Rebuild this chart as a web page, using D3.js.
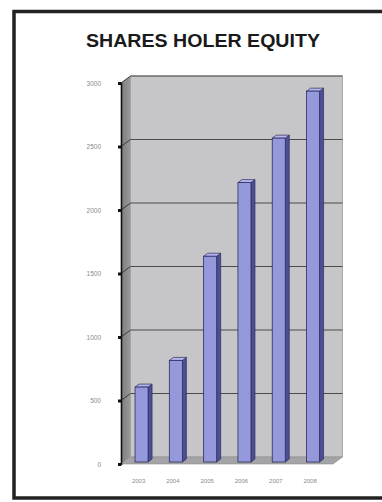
<!DOCTYPE html>
<html>
<head>
<meta charset="utf-8">
<script src="https://cdn.jsdelivr.net/npm/d3@7/dist/d3.min.js"></script>
<style>
  html, body { margin: 0; padding: 0; background: #fff; }
  svg { display: block; }
</style>
</head>
<body>
<svg id="chart" width="382" height="502"></svg>
<script>
// Shareholder equity by year
const years = ["2003", "2004", "2005", "2006", "2007", "2008"];
const equity = [590, 800, 1620, 2200, 2550, 2920];
const yTicks = [0, 500, 1000, 1500, 2000, 2500, 3000];
const titleText = "SHARES HOLER EQUITY";

const svg = d3.select("#chart");
const W = 382, H = 502;

svg.append("rect").attr("width", W).attr("height", H).attr("fill", "#fff");

// outer frame (right edge runs off the page)
svg.append("rect")
  .attr("x", 14).attr("y", 11.5)
  .attr("width", 400).attr("height", 486.5)
  .attr("fill", "none")
  .attr("stroke", "#222")
  .attr("stroke-width", 3.5);

// title
svg.append("text")
  .attr("x", 203).attr("y", 47)
  .attr("text-anchor", "middle")
  .attr("font-family", "Liberation Sans, Arial, sans-serif")
  .attr("font-weight", "bold")
  .attr("font-size", 18)
  .attr("textLength", 234)
  .attr("lengthAdjust", "spacingAndGlyphs")
  .attr("fill", "#1a1a1a")
  .text(titleText);

// 3D plot geometry
const axisX = 121;
const depthX = 9.5, depthY = -7;
const frontRight = 333;

const y = d3.scaleLinear().domain([0, 3000]).range([464, 83]);
const x = d3.scaleBand()
  .domain(years)
  .range([124.4, 330.2])
  .paddingInner(0.62)
  .paddingOuter(0.31);

const y0 = y(0), yTop = y(3000);

// back wall
svg.append("polygon")
  .attr("points", [
    [axisX + depthX, yTop + depthY],
    [frontRight + depthX, yTop + depthY],
    [frontRight + depthX, y0 + depthY],
    [axisX + depthX, y0 + depthY]
  ].join(" "))
  .attr("fill", "#c6c6c8")
  .attr("stroke", "#9a9a9a")
  .attr("stroke-width", 0.8);

// side wall
const sideGrad = svg.append("defs").append("linearGradient")
  .attr("id", "sideGrad").attr("x1", 0).attr("x2", 1).attr("y1", 0).attr("y2", 0);
sideGrad.append("stop").attr("offset", 0).attr("stop-color", "#7c7c7e");
sideGrad.append("stop").attr("offset", 1).attr("stop-color", "#9a9a9c");

svg.append("polygon")
  .attr("points", [
    [axisX, yTop],
    [axisX + depthX, yTop + depthY],
    [axisX + depthX, y0 + depthY],
    [axisX, y0]
  ].join(" "))
  .attr("fill", "url(#sideGrad)");

// floor
svg.append("polygon")
  .attr("points", [
    [axisX, y0],
    [axisX + depthX, y0 + depthY],
    [frontRight + depthX, y0 + depthY],
    [frontRight, y0]
  ].join(" "))
  .attr("fill", "#a4a4a6")
  .attr("stroke", "#8e8e90")
  .attr("stroke-width", 0.6);

// gridlines: diagonal on the side wall plus horizontal on the back wall
const grid = svg.append("g");
yTicks.filter(t => t > 0).forEach(t => {
  grid.append("line")
    .attr("x1", axisX).attr("y1", y(t))
    .attr("x2", axisX + depthX).attr("y2", y(t) + depthY)
    .attr("stroke", "#3a3a3a").attr("stroke-width", 1);
  grid.append("line")
    .attr("x1", axisX + depthX).attr("y1", y(t) + depthY)
    .attr("x2", frontRight + depthX).attr("y2", y(t) + depthY)
    .attr("stroke", "#4a4a4a").attr("stroke-width", 1.2);
});

// bars
const sideW = 4, sideRise = -3;
const barShift = -2;
const bars = svg.append("g");
years.forEach((yr, i) => {
  const v = equity[i];
  const bx = x(yr), bw = x.bandwidth();
  const top = y(v) + barShift, bot = y(0) + barShift;
  // side face
  bars.append("polygon")
    .attr("points", [
      [bx + bw, top], [bx + bw + sideW, top + sideRise],
      [bx + bw + sideW, bot + sideRise], [bx + bw, bot]
    ].join(" "))
    .attr("fill", "#4c4e96")
    .attr("stroke", "#2c2d5e").attr("stroke-width", 0.7);
  // top face
  bars.append("polygon")
    .attr("points", [
      [bx, top], [bx + sideW, top + sideRise],
      [bx + bw + sideW, top + sideRise], [bx + bw, top]
    ].join(" "))
    .attr("fill", "#b4b6ee")
    .attr("stroke", "#2c2d5e").attr("stroke-width", 0.7);
  // front face
  bars.append("rect")
    .attr("x", bx).attr("y", top)
    .attr("width", bw).attr("height", bot - top)
    .attr("fill", "#9599db")
    .attr("stroke", "#2c2d5e").attr("stroke-width", 0.8);
});

// y axis
const yAxis = d3.axisLeft(y)
  .tickValues(yTicks)
  .tickFormat(d3.format("d"))
  .tickSize(3)
  .tickPadding(17);
const gy = svg.append("g")
  .attr("transform", `translate(${axisX},0)`)
  .call(yAxis);
gy.select(".domain").attr("stroke", "#111").attr("stroke-width", 1.6);
gy.selectAll(".tick line").attr("stroke", "#111").attr("stroke-width", 3);
gy.selectAll(".tick text")
  .attr("font-family", "Liberation Sans, Arial, sans-serif")
  .attr("font-size", 6.5)
  .attr("fill", "#8a8a8a");

// x axis labels
const xAxis = d3.axisBottom(x).tickSize(0).tickPadding(15);
const gx = svg.append("g")
  .attr("transform", `translate(-3,${y0})`)
  .call(xAxis);
gx.select(".domain").remove();
gx.selectAll(".tick text")
  .attr("font-family", "Liberation Sans, Arial, sans-serif")
  .attr("font-size", 6)
  .attr("fill", "#8a8a8a");
</script>
</body>
</html>
